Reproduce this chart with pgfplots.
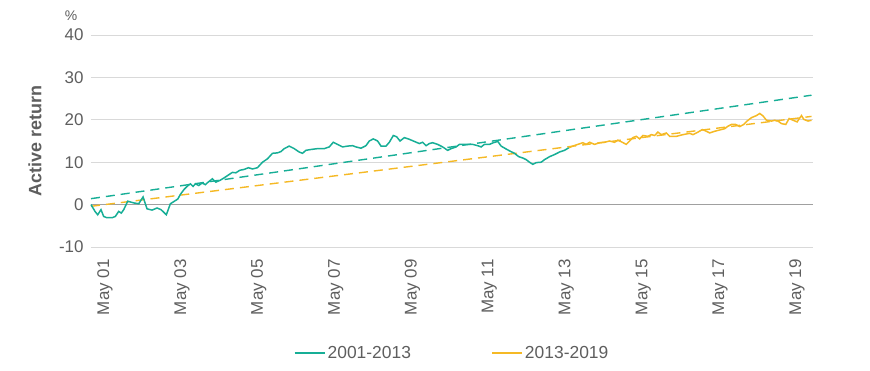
\documentclass[border=0pt]{standalone}
\usepackage{fontspec}
\setmainfont{Liberation Sans}
\usepackage{pgfplots}
\usepackage{pgfplotstable}
\pgfplotsset{compat=1.18}
\definecolor{teal1}{HTML}{17AE96}
\definecolor{gold1}{HTML}{F5B925}
\definecolor{txt}{HTML}{5E5E5E}
\definecolor{grid1}{HTML}{D9D9D9}
\definecolor{zero1}{HTML}{A0A0A0}

\pgfplotstableread{
x y
2000.969 0.0
2001.073 -1.6
2001.143 -2.4
2001.229 -1.2
2001.299 -2.8
2001.385 -3.1
2001.516 -3.1
2001.601 -2.8
2001.690 -1.6
2001.757 -2.0
2001.820 -1.2
2001.924 0.8
2002.080 0.4
2002.211 0.2
2002.323 1.8
2002.427 -1.0
2002.557 -1.3
2002.687 -0.8
2002.792 -1.2
2002.929 -2.4
2003.034 0.2
2003.138 0.8
2003.226 1.3
2003.294 2.4
2003.383 3.5
2003.469 4.3
2003.555 4.9
2003.625 4.3
2003.685 4.9
2003.773 4.5
2003.859 5.1
2003.945 4.7
2003.990 5.1
2004.127 6.1
2004.216 5.3
2004.320 5.7
2004.432 6.3
2004.563 7.1
2004.648 7.6
2004.737 7.5
2004.841 8.1
2004.953 8.3
2005.065 8.7
2005.169 8.4
2005.299 8.7
2005.430 10.0
2005.560 10.8
2005.690 12.1
2005.820 12.2
2005.909 12.5
2005.995 13.2
2006.125 13.8
2006.255 13.2
2006.385 12.4
2006.471 12.1
2006.560 12.8
2006.690 13.0
2006.862 13.2
2007.036 13.2
2007.167 13.6
2007.271 14.7
2007.383 14.2
2007.513 13.6
2007.643 13.8
2007.773 13.9
2007.862 13.6
2007.992 13.3
2008.122 13.9
2008.208 15.0
2008.313 15.5
2008.424 15.0
2008.513 13.8
2008.643 13.8
2008.729 14.7
2008.833 16.3
2008.919 16.0
2009.008 15.0
2009.120 15.8
2009.250 15.4
2009.380 14.9
2009.510 14.4
2009.596 14.7
2009.685 13.9
2009.771 14.4
2009.857 14.6
2009.987 14.2
2010.117 13.6
2010.247 12.8
2010.336 13.2
2010.466 13.6
2010.552 14.2
2010.727 14.2
2010.898 14.2
2011.029 13.9
2011.117 13.6
2011.203 14.2
2011.333 14.2
2011.438 14.6
2011.549 14.9
2011.638 13.8
2011.750 13.2
2011.872 12.6
2011.984 12.1
2012.096 11.3
2012.200 11.0
2012.289 10.6
2012.375 10.0
2012.461 9.5
2012.549 9.9
2012.680 10.0
2012.766 10.6
2012.896 11.3
2013.026 11.8
2013.156 12.4
2013.286 12.8
2013.398 13.4
}\greendata

\pgfplotstableread{
x y
2013.398 13.4
2013.503 13.8
2013.633 14.2
2013.763 14.6
2013.852 14.2
2013.938 14.7
2014.068 14.2
2014.198 14.6
2014.328 14.7
2014.458 15.0
2014.589 14.7
2014.674 15.2
2014.789 14.7
2014.893 14.2
2014.979 15.0
2015.065 15.8
2015.154 16.1
2015.240 15.5
2015.326 16.3
2015.456 16.1
2015.544 16.5
2015.630 16.3
2015.716 17.1
2015.805 16.5
2015.935 16.9
2016.021 16.1
2016.195 16.1
2016.367 16.5
2016.542 16.8
2016.628 16.5
2016.758 17.1
2016.872 17.7
2016.977 17.3
2017.063 16.9
2017.193 17.3
2017.323 17.6
2017.453 17.9
2017.539 18.5
2017.628 18.9
2017.740 18.9
2017.844 18.4
2017.948 18.9
2018.034 19.7
2018.148 20.5
2018.279 21.0
2018.365 21.5
2018.451 20.9
2018.539 19.9
2018.669 19.7
2018.755 19.9
2018.841 19.7
2018.930 19.1
2019.042 18.9
2019.128 20.3
2019.232 19.9
2019.336 19.5
2019.450 21.0
2019.510 20.1
2019.622 19.7
2019.711 19.9
}\golddata

\begin{document}
\begin{tikzpicture}
\useasboundingbox (-91bp,-124bp) rectangle (779bp,247bp);
\begin{axis}[
  at={(0,0)}, anchor=south west,
  scale only axis, width=722bp, height=212bp,
  xmin=2000.969, xmax=2019.75, ymin=-10, ymax=40,
  axis line style={draw=none},
  tick style={draw=none},
  ytick={-10,0,10,20,30,40},
  ymajorgrids,
  grid style={grid1, line width=0.9bp},
  extra y ticks={0},
  extra y tick labels={},
  extra y tick style={grid style={zero1, line width=1.2bp}},
  xtick={2001.333,2003.333,2005.333,2007.333,2009.333,2011.333,2013.333,2015.333,2017.333,2019.333},
  xticklabels={May 01,May 03,May 05,May 07,May 09,May 11,May 13,May 15,May 17,May 19},
  ticklabel style={font=\fontsize{17}{20}\selectfont, text=txt},
  x tick label style={rotate=90, anchor=east, xshift=-9bp},
  y tick label style={xshift=-4bp},
  /pgf/number format/assume math mode=true,
  ylabel={Active return},
  ylabel style={at={(axis description cs:-0.0776,0.5)}, anchor=center, font=\bfseries\fontsize{18}{21}\selectfont, text=txt},
  legend style={at={(axis description cs:0.5,-0.4986)}, anchor=center, draw=none, fill=none,
    legend columns=2, font=\fontsize{17.5}{20}\selectfont, text=txt,
    /tikz/every even column/.append style={column sep=78bp}},
  legend image code/.code={\draw[#1, line width=2bp] (0bp,0bp) -- (30bp,0bp);},
  clip=false,
]
\addplot[teal1, line width=1.4bp, dash pattern=on 9bp off 6bp, forget plot] coordinates {(2000.969,1.4) (2019.711,25.8)};
\addplot[gold1, line width=1.4bp, dash pattern=on 9bp off 6bp, forget plot] coordinates {(2000.969,-0.4) (2019.711,20.8)};
\addplot[teal1, line width=1.5bp] table {\greendata};
\addlegendentry{2001-2013}
\addplot[gold1, line width=1.5bp] table {\golddata};
\addlegendentry{2013-2019}
\node[font=\fontsize{14}{16}\selectfont, text=txt] at (axis description cs:-0.0277,1.09) {\%};
\end{axis}
\end{tikzpicture}
\end{document}
